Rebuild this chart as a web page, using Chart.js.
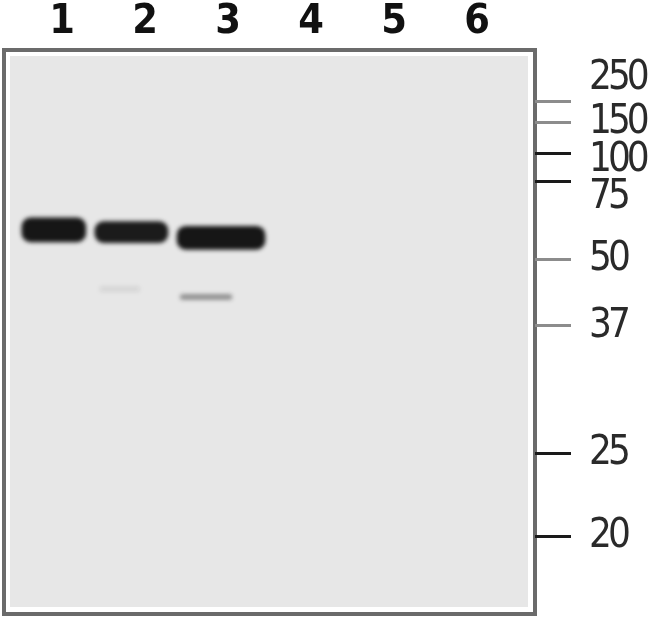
<!DOCTYPE html>
<html>
<head>
<meta charset="utf-8">
<script src="https://cdn.jsdelivr.net/npm/chart.js@4.4.1/dist/chart.umd.min.js"></script>
<style>
  html, body { margin: 0; padding: 0; background: #fff; }
  canvas { display: block; }
</style>
</head>
<body>
<canvas id="blot" width="650" height="617"></canvas>
<script>
// lanes across the top of the membrane
const lanes = [1, 2, 3, 4, 5, 6]

// marker ladder (kDa) and how far each marker ran (0 = top of membrane, 100 = bottom)
const markerKDa = [250, 150, 100, 75, 50, 37, 25, 20]
const markerMobility = [9.2, 12.9, 18.4, 23.4, 37.2, 48.8, 71.5, 86.3]
// where the ladder labels sit (250 and 75 are nudged off their tick, the top is crowded)
const markerLabelMobility = [5.1, 12.9, 19.7, 26.2, 37.2, 49.1, 71.5, 86.3]

// bands seen on the blot: lane, left/right edge (in lane units), mobility, relative intensity
const bandLane = [1, 2, 3, 2, 3]
const bandStart = [0.54, 1.42, 2.41, 1.48, 2.45]
const bandEnd = [1.31, 2.30, 3.47, 1.96, 3.07]
const bandMobility = [31.9, 32.3, 33.3, 42.4, 43.8]
const bandIntensity = [0.96, 0.94, 0.97, 0.08, 0.42]

// styling
const bandThickness = [24, 21, 23, 5, 5]
const markerTickColors = ['#8c8c8c', '#8c8c8c', '#1a1a1a', '#1a1a1a', '#8c8c8c', '#8c8c8c', '#1a1a1a', '#1a1a1a']
const narrow = '"Liberation Sans Narrow", "Arial Narrow", "DejaVu Sans Condensed", sans-serif'

const membrane = {
  id: 'membrane',
  beforeDraw(chart) {
    const { ctx, chartArea: a } = chart
    ctx.save()
    ctx.fillStyle = '#fff'
    ctx.fillRect(0, 0, chart.width, chart.height)
    ctx.fillStyle = '#e7e7e7'
    ctx.fillRect(a.left + 6, a.top + 6, a.width - 13, a.height - 13)
    ctx.strokeStyle = '#6b6b6b'
    ctx.lineWidth = 4
    ctx.strokeRect(a.left, a.top, a.width, a.height)
    ctx.restore()
    // the ladder numbers are set tight
    ctx.letterSpacing = '-4px'
  }
}

// bands on film are never crisp
const bandBlur = {
  id: 'bandBlur',
  beforeDatasetDraw(chart) {
    chart.ctx.save()
    chart.ctx.filter = 'blur(2.2px)'
  },
  afterDatasetDraw(chart) {
    chart.ctx.restore()
  }
}

const datasets = bandLane.map((lane, i) => ({
  label: 'Lane ' + lane,
  data: [{ x: [bandStart[i], bandEnd[i]], y: bandMobility[i] }],
  backgroundColor: `rgba(14, 14, 14, ${bandIntensity[i]})`,
  barThickness: bandThickness[i],
  borderRadius: Math.min(9, bandThickness[i] / 2),
  borderSkipped: false,
  grouped: false
}))

const noPadding = (scale) => {
  scale.paddingTop = 0
  scale.paddingBottom = 0
  scale.paddingLeft = 0
  scale.paddingRight = 0
}

new Chart(document.getElementById('blot'), {
  type: 'bar',
  data: { datasets },
  options: {
    indexAxis: 'y',
    responsive: false,
    animation: false,
    layout: { autoPadding: false, padding: { left: 4, top: 2, right: 0, bottom: 3 } },
    plugins: {
      legend: { display: false },
      tooltip: { enabled: false }
    },
    scales: {
      x: {
        type: 'linear',
        position: 'top',
        min: 0.325,
        max: 6.723,
        offset: false,
        grid: { display: false, drawTicks: false, offset: false },
        border: { display: false },
        afterBuildTicks: (scale) => { scale.ticks = lanes.map(v => ({ value: v })) },
        afterFit: (scale) => { scale.height = 48; noPadding(scale) },
        ticks: {
          padding: 3,
          maxRotation: 0,
          color: '#111',
          font: { family: narrow, size: 41, weight: 'bold' },
          callback: (v) => String(v)
        }
      },
      y: {
        type: 'linear',
        position: 'right',
        min: 0,
        max: 100,
        reverse: true,
        offset: false,
        border: { display: false },
        grid: {
          offset: false,
          drawOnChartArea: false,
          tickLength: 36,
          lineWidth: 3,
          color: (ctx) => markerTickColors[ctx.index]
        },
        ticks: { display: false },
        afterBuildTicks: (scale) => { scale.ticks = markerMobility.map(v => ({ value: v })) },
        afterFit: (scale) => { scale.width = 36; noPadding(scale) }
      },
      yLabels: {
        type: 'linear',
        position: 'right',
        min: 0,
        max: 100,
        reverse: true,
        offset: false,
        border: { display: false },
        grid: { display: false, drawTicks: false, offset: false },
        afterBuildTicks: (scale) => { scale.ticks = markerLabelMobility.map(v => ({ value: v })) },
        afterFit: (scale) => { scale.width = 79; noPadding(scale) },
        ticks: {
          padding: 18,
          color: '#2a2a2a',
          font: { family: narrow, size: 40 },
          callback: (v, i) => String(markerKDa[i])
        }
      }
    }
  },
  plugins: [membrane, bandBlur]
})
</script>
</body>
</html>
